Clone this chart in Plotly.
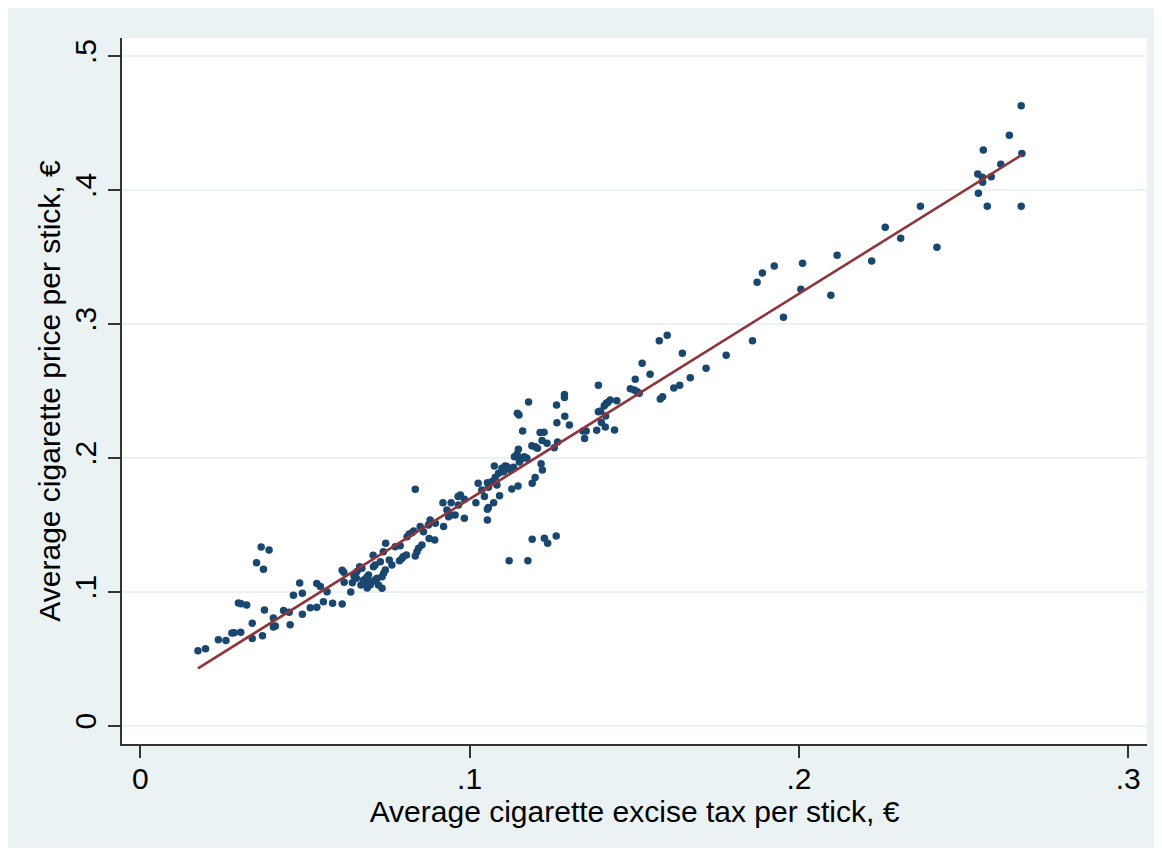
import plotly.graph_objects as go
import numpy as np

# Average cigarette excise tax per stick (EUR)
tax = [
    0.0175, 0.0198, 0.0237, 0.0260, 0.0278, 0.0285, 0.0305, 0.0340, 0.0340, 0.0371,
    0.0298, 0.0306, 0.0323, 0.0377, 0.0404, 0.0404, 0.0410, 0.0353, 0.0367, 0.0391,
    0.0374, 0.0435, 0.0452, 0.0455, 0.0465, 0.0484, 0.0492, 0.0492, 0.0516, 0.0536,
    0.0536, 0.0547, 0.0556, 0.0567, 0.0584, 0.0613, 0.0613, 0.0618, 0.0619, 0.0639,
    0.0649, 0.0656, 0.0658, 0.0666, 0.0673, 0.0670, 0.0678, 0.0683, 0.0688, 0.0693,
    0.0698, 0.0703, 0.0707, 0.0708, 0.0713, 0.0713, 0.0719, 0.0729, 0.0734, 0.0734,
    0.0739, 0.0744, 0.0738, 0.0745, 0.0756, 0.0764, 0.0774, 0.0787, 0.0795, 0.0799,
    0.0808, 0.0789, 0.0810, 0.0817, 0.0825, 0.0835, 0.0840, 0.0845, 0.0835, 0.0830,
    0.0850, 0.0855, 0.0860, 0.0875, 0.0880, 0.0877, 0.0894, 0.0896, 0.0919, 0.0921,
    0.0931, 0.0936, 0.0943, 0.0944, 0.0956, 0.0965, 0.0972, 0.0966, 0.0984, 0.0984,
    0.1019, 0.1026, 0.1045, 0.1054, 0.1054, 0.1057, 0.1054, 0.1068, 0.1078, 0.1083,
    0.1073, 0.1091, 0.1075, 0.1088, 0.1098, 0.1103, 0.1113, 0.1120, 0.1177, 0.1128,
    0.1147, 0.1133, 0.1136, 0.1144, 0.1148, 0.1154, 0.1159, 0.1166, 0.1174, 0.1151,
    0.1145, 0.1150, 0.1161, 0.1179, 0.1190, 0.1199, 0.1189, 0.1199, 0.1206, 0.1214,
    0.1226, 0.1220, 0.1217, 0.1221, 0.1235, 0.1257, 0.1267, 0.1265, 0.1264, 0.1288,
    0.1288, 0.1289, 0.1303, 0.1190, 0.1227, 0.1237, 0.1263, 0.1344, 0.1354, 0.1349,
    0.1386, 0.1391, 0.1391, 0.1398, 0.1400, 0.1412, 0.1409, 0.1415, 0.1419, 0.1427,
    0.1413, 0.1440, 0.1447, 0.1488, 0.1500, 0.1508, 0.1515, 0.1503, 0.1524, 0.1548,
    0.1576, 0.1600, 0.1579, 0.1586, 0.1620, 0.1638, 0.1646, 0.1670, 0.1718, 0.1779,
    0.1859, 0.1873, 0.1889, 0.1925, 0.1953, 0.2006, 0.2011, 0.2097, 0.2116, 0.2221,
    0.2262, 0.2309, 0.2369, 0.2419, 0.2543, 0.2560, 0.2557, 0.2558, 0.2545, 0.2584,
    0.2572, 0.2613, 0.2639, 0.2675, 0.2677, 0.2675,
    0.1037, 0.1057, 0.1108, 0.1118, 0.1124, 0.0723, 0.0689, 0.0644,
]

# Average cigarette price per stick (EUR)
price = [
    0.0559, 0.0574, 0.0641, 0.0636, 0.0692, 0.0694, 0.0698, 0.0650, 0.0765, 0.0672,
    0.0915, 0.0910, 0.0900, 0.0864, 0.0803, 0.0737, 0.0744, 0.1216, 0.1334, 0.1312,
    0.1168, 0.0859, 0.0847, 0.0754, 0.0974, 0.1065, 0.0989, 0.0832, 0.0880, 0.0884,
    0.1062, 0.1038, 0.0925, 0.1000, 0.0914, 0.0909, 0.1160, 0.1145, 0.1071, 0.0998,
    0.1118, 0.1100, 0.1150, 0.1187, 0.1175, 0.1050, 0.1088, 0.1063, 0.1108, 0.1125,
    0.1050, 0.1075, 0.1272, 0.1187, 0.1200, 0.1088, 0.1100, 0.1224, 0.1026, 0.1112,
    0.1138, 0.1162, 0.1299, 0.1362, 0.1237, 0.1200, 0.1336, 0.1232, 0.1250, 0.1262,
    0.1274, 0.1344, 0.1411, 0.1431, 0.1441, 0.1267, 0.1299, 0.1324, 0.1765, 0.1454,
    0.1486, 0.1349, 0.1448, 0.1498, 0.1536, 0.1398, 0.1386, 0.1511, 0.1665, 0.1486,
    0.1610, 0.1560, 0.1573, 0.1665, 0.1573, 0.1710, 0.1722, 0.1648, 0.1548, 0.1690,
    0.1665, 0.1810, 0.1711, 0.1814, 0.1616, 0.1629, 0.1536, 0.1822, 0.1855, 0.1797,
    0.1665, 0.1717, 0.1939, 0.1884, 0.1922, 0.1896, 0.1934, 0.1232, 0.1232, 0.1767,
    0.1790, 0.1929, 0.2008, 0.2026, 0.2064, 0.1984, 0.1996, 0.2008, 0.1996, 0.1969,
    0.2332, 0.2320, 0.2200, 0.2417, 0.1810, 0.1853, 0.2090, 0.2083, 0.2071, 0.2188,
    0.2191, 0.2129, 0.1956, 0.1909, 0.2108, 0.2075, 0.2118, 0.2261, 0.2394, 0.2473,
    0.2450, 0.2310, 0.2244, 0.1392, 0.1399, 0.1362, 0.1416, 0.2200, 0.2200, 0.2144,
    0.2206, 0.2542, 0.2344, 0.2350, 0.2264, 0.2229, 0.2388, 0.2407, 0.2413, 0.2432,
    0.2312, 0.2208, 0.2426, 0.2515, 0.2506, 0.2494, 0.2482, 0.2586, 0.2706, 0.2624,
    0.2874, 0.2915, 0.2439, 0.2456, 0.2521, 0.2541, 0.2780, 0.2598, 0.2668, 0.2765,
    0.2874, 0.3310, 0.3380, 0.3432, 0.3049, 0.3258, 0.3452, 0.3213, 0.3512, 0.3470,
    0.3721, 0.3639, 0.3878, 0.3572, 0.4119, 0.4298, 0.4094, 0.4057, 0.3975, 0.4099,
    0.3878, 0.4191, 0.4408, 0.4629, 0.4271, 0.3878,
    0.1760, 0.1780, 0.1939, 0.1922, 0.1909, 0.1050, 0.1028, 0.1066,
]

# Linear fit
fit_intercept = 0.0160
fit_slope = 1.532

x_ticks = [0, 0.1, 0.2, 0.3]
x_ticklabels = ["0", ".1", ".2", ".3"]
y_ticks = [0, 0.1, 0.2, 0.3, 0.4, 0.5]
y_ticklabels = ["0", ".1", ".2", ".3", ".4", ".5"]

x_title = "Average cigarette excise tax per stick, €"
y_title = "Average cigarette price per stick, €"

BG = "#EAF2F3"
NAVY = "#1A476F"
MAROON = "#90353B"
AXIS = "#333333"
FONT = "Liberation Sans, Arial, sans-serif"

fx = np.array([min(tax), max(tax)])
fy = fit_intercept + fit_slope * fx

fig = go.Figure()
fig.add_trace(go.Scatter(
    x=tax, y=price, mode="markers",
    marker=dict(color=NAVY, size=7.5, line=dict(width=0)),
    showlegend=False,
))
fig.add_trace(go.Scatter(
    x=fx, y=fy, mode="lines",
    line=dict(color=MAROON, width=2.6),
    showlegend=False,
))

# page has an 8px body margin; figure is 1146x840 placed at (8,8)
OFF = 8
W, H = 1146, 840
L, R, T, B = 122 - OFF, 7, 38 - OFF, 104
pw, ph = W - L - R, H - T - B

def px_to_paper_x(px):
    return (px - OFF - L) / pw

def px_to_paper_y(py):
    return (H - B - (py - OFF)) / ph

fig.add_shape(type="rect", xref="paper", yref="paper",
              x0=px_to_paper_x(5), x1=px_to_paper_x(1157),
              y0=px_to_paper_y(851), y1=px_to_paper_y(7),
              fillcolor=BG, line=dict(width=0), layer="below")
fig.add_shape(type="rect", xref="paper", yref="paper",
              x0=0, x1=1, y0=0, y1=1,
              fillcolor="white", line=dict(width=0), layer="below")

FS = 30
fig.update_layout(
    width=W, height=H,
    margin=dict(l=L, r=R, t=T, b=B, pad=0),
    paper_bgcolor="white",
    plot_bgcolor="white",
    font=dict(family=FONT, color="black", size=FS),
    xaxis=dict(
        range=[-0.00556, 0.3057],
        tickvals=x_ticks, ticktext=x_ticklabels,
        showgrid=False, zeroline=False,
        showline=True, linecolor=AXIS, linewidth=1.5,
        ticks="outside", ticklen=12, tickwidth=1.5, tickcolor=AXIS,
        ticklabelstandoff=-5,
        tickfont=dict(size=FS, family=FONT, color="black"),
        title=dict(text=x_title, font=dict(size=FS, family=FONT, color="black"), standoff=0),
    ),
    yaxis=dict(
        range=[-0.0137, 0.5134],
        tickvals=y_ticks, ticktext=y_ticklabels,
        tickangle=-90,
        showgrid=True, gridcolor=BG, gridwidth=2,
        zeroline=False,
        showline=True, linecolor=AXIS, linewidth=1.5,
        ticks="outside", ticklen=12, tickwidth=1.5, tickcolor=AXIS,
        tickfont=dict(size=FS, family=FONT, color="black"),
        title=dict(text=y_title, font=dict(size=FS, family=FONT, color="black"), standoff=0),
    ),
)

fig.write_html("out.html")
